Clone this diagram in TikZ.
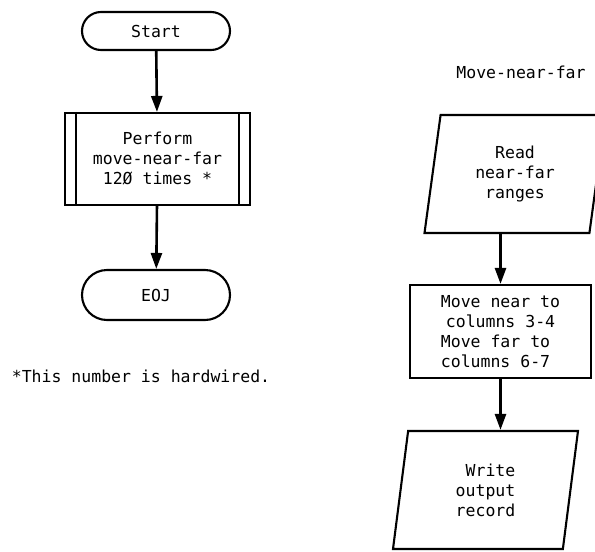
\documentclass[tikz,border=0pt]{standalone}
\usepackage{fontspec}
\newfontfamily\flowfont{DejaVu Sans Mono}
\usetikzlibrary{shapes.geometric,arrows.meta}

\begin{document}
\begin{tikzpicture}[x=1pt,y=-1pt,>={Triangle[length=16pt,width=11pt]},
  font=\flowfont\fontsize{16.5}{20}\selectfont,
  terminal/.style={draw,line width=2.1pt,rounded corners=19pt,minimum width=148pt,minimum height=38pt},
  process/.style={draw,line width=2.1pt,align=center,inner sep=0pt},
  io/.style={draw,line width=2.1pt,trapezium,trapezium left angle=74,trapezium right angle=106,
    trapezium stretches body,inner sep=0pt,minimum height=118pt},
  flow/.style={->,line width=2.6pt}]
\useasboundingbox (0,0) rectangle (595,552);
\clip (0,0) rectangle (595,552);

% main program
\node[terminal](start) at (156,31){Start};
\node[process,minimum width=185pt,minimum height=92pt](perform) at (157.5,159){Perform\\move-near-far\\12Ø times *};
\draw[line width=2.1pt]([xshift=12pt]perform.north west)--([xshift=12pt]perform.south west);
\draw[line width=2.1pt]([xshift=-12pt]perform.north east)--([xshift=-12pt]perform.south east);
\node[terminal,minimum height=50pt,rounded corners=25pt](eoj) at (156,295){EOJ};
\draw[flow](start)--(perform);
\draw[flow](perform)--(eoj);

\node(note) at (141,376){*This number is hardwired.};

% subroutine
\node(title) at (521,72){Move-near-far};
\node[io,align=center,minimum width=181pt](read) at (515,174){Read\\near-far\\ranges};
\node[process,align=left,minimum width=181pt,minimum height=93pt](move) at (500.5,331.5){Move near to\\\hspace{5pt}columns 3-4\\Move far to\\columns 6-7};
\node[io,align=right,minimum width=185pt](write) at (485.5,490){Write\\output\\record};
\draw[flow](read.south -| move.north)--(move.north);
\draw[flow](move.south)--(move.south |- write.north);
\end{tikzpicture}
\end{document}
